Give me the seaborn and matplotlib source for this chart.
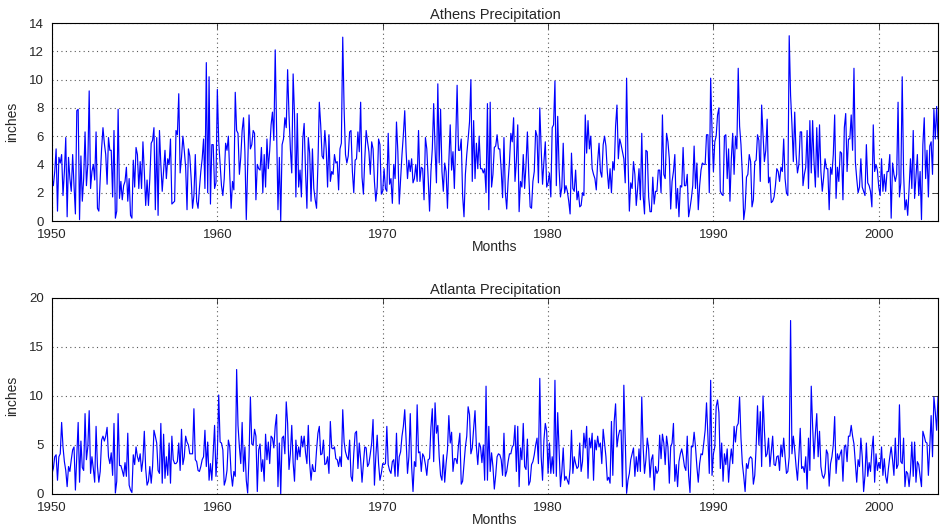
import seaborn as sns
import matplotlib
matplotlib.use("Agg")
import matplotlib.pyplot as plt
import numpy as np
import pandas as pd

# monthly precipitation (inches), Jan 1950 onwards
athens_in = [
    # 1950-1958
    3.0, 2.5, 3.5, 5.1, 0.7, 4.5, 4.1, 4.7, 1.8, 3.5, 5.9, 0.3,
    4.5, 3.0, 2.1, 4.7, 2.5, 0.5, 7.8, 7.9, 0.1, 4.6, 1.4, 3.0,
    6.3, 2.5, 4.0, 9.2, 2.3, 3.5, 4.0, 2.9, 6.3, 0.9, 0.7, 3.0,
    5.1, 6.6, 5.5, 4.7, 2.6, 5.9, 5.0, 5.0, 1.7, 6.4, 0.2, 0.7,
    7.9, 1.6, 2.8, 1.5, 2.5, 2.8, 3.8, 1.4, 3.0, 0.4, 0.2, 4.3,
    2.4, 5.2, 4.7, 2.3, 4.2, 2.3, 5.6, 3.5, 1.1, 2.9, 1.1, 3.0,
    5.5, 5.7, 6.6, 0.8, 5.9, 0.4, 6.4, 4.0, 2.1, 3.5, 5.0, 3.0,
    4.4, 4.0, 5.8, 1.2, 1.3, 1.4, 6.4, 6.1, 9.0, 3.4, 4.5, 6.0,
    5.0, 3.8, 0.8, 5.1, 4.6, 3.0, 0.9, 1.8, 4.7, 1.4, 0.9, 2.3,
    # 1959-1968
    3.5, 4.4, 5.8, 2.3, 11.2, 2.0, 10.2, 1.2, 5.4, 5.4, 2.3,
    2.7, 9.3, 5.6, 4.0, 2.5, 1.8, 3.0, 5.5, 5.0, 6.0, 3.3,
    0.9, 2.8, 2.2, 9.1, 6.4, 6.2, 3.3, 4.5, 6.4, 7.3, 4.9,
    0.1, 3.8, 7.5, 5.1, 5.4, 6.4, 6.2, 1.5, 4.0, 3.7,
    3.6, 5.2, 2.0, 4.7, 2.4, 5.8, 3.7, 5.0, 6.8, 7.7, 5.7,
    12.1, 6.4, 0.8, 4.5, 0.0, 5.4, 5.8, 7.3, 6.6, 10.7,
    7.5, 5.1, 3.4, 10.4, 7.5, 1.7, 7.6, 2.4, 3.6, 1.7,
    5.8, 6.9, 3.5, 0.9, 5.9, 4.8, 1.4, 5.1, 2.3, 1.5, 0.9, 4.0, 8.4,
    6.8, 4.6, 4.4, 6.4, 5.1, 2.4, 6.1, 2.8, 3.5, 3.3,
    4.7, 4.1, 4.2, 2.2, 5.1, 5.5, 13.0, 7.9, 4.7, 4.1,
    4.6, 6.3,
    # 1968-1977
    6.4, 3.5, 2.0, 4.3, 4.4, 6.3, 4.9, 8.4, 3.1, 1.9,
    4.4, 6.4, 5.6, 4.9, 3.3, 5.6, 5.1, 2.8, 1.4, 2.4,
    5.8, 5.4, 1.9, 2.1, 3.7, 2.3, 2.1, 6.2, 2.6, 3.0,
    1.25, 4.0, 3.0, 7.0, 4.9, 1.2, 2.9, 4.7, 6.1, 7.8,
    4.9, 3.0, 4.3, 3.5, 4.4, 2.7, 3.0, 4.0, 2.8, 6.4,
    2.8, 3.8, 3.7, 1.5, 5.9, 5.1, 3.0, 0.7, 3.5, 5.1,
    8.3, 5.1, 2.7, 9.7, 4.1, 7.9, 3.5, 2.1, 4.1, 3.5,
    0.9, 4.2, 6.8, 3.6, 4.9, 2.3, 5.7, 9.6, 5.0, 5.0,
    5.8, 1.8, 0.3, 3.3, 4.7, 5.8, 7.0, 10.0, 2.8, 7.1,
    3.0, 5.5, 3.7, 6.0, 3.7, 3.7, 3.4, 3.7, 2.0, 8.3,
    0.8, 8.4, 2.4, 3.3, 5.2, 5.3, 6.1, 5.1, 5.1,
    # 1977-1986
    3.6, 1.65, 5.9, 2.0, 0.85, 2.8, 4.2, 6.2, 5.6, 7.3,
    2.8, 4.2, 6.8, 0.66, 2.8, 2.4, 4.7, 2.3, 4.0, 6.3,
    3.3, 1.0, 0.9, 2.8, 3.5, 6.4, 6.0, 2.7, 8.0, 5.1,
    2.6, 4.2, 5.6, 2.4, 2.7, 3.4, 1.7, 6.6, 6.8, 9.9,
    2.5, 7.4, 3.7, 1.7, 2.4, 5.5, 2.0, 2.5, 2.1, 1.4,
    0.5, 4.8, 2.3, 2.1, 3.6, 1.5, 2.1, 1.0, 1.1, 2.0,
    1.8, 7.5, 4.8, 7.1, 5.1, 6.0, 3.7, 3.3, 3.0,
    2.2, 4.2, 5.5, 3.5, 3.1, 5.4, 6.0, 5.3, 3.5, 2.3,
    3.7, 2.0, 4.2, 3.6, 6.7, 8.2, 4.4, 5.8, 5.4,
    4.9, 4.4, 2.7, 10.1, 4.4, 0.7, 2.7, 2.3, 4.2,
    3.3, 1.1, 2.3, 3.7, 1.5, 6.2, 1.8, 0.5, 5.0, 4.9,
    1.7, 0.66,
    # 1986-1995
    0.66, 3.1, 1.2, 2.1, 2.1, 3.6, 3.6, 2.0, 7.5, 3.3,
    3.0, 6.2, 5.6, 4.4, 0.85, 2.8, 3.5, 4.7, 0.9, 2.3,
    0.3, 2.5, 2.4, 5.2, 2.5, 2.5, 3.3, 0.3, 0.9, 1.6,
    2.5, 5.3, 2.3, 4.1, 0.8, 2.5, 3.6, 4.1, 4.0, 4.0,
    6.1, 6.1, 2.0, 10.1, 6.4, 3.5, 5.6, 6.0, 7.5, 8.0,
    2.1, 1.9, 1.8, 6.0, 6.1, 3.0, 5.1, 1.4, 4.4, 6.2,
    3.3, 6.0, 5.1, 10.8, 6.7, 5.4, 3.3, 0.1, 0.9,
    3.1, 3.3, 4.7, 4.2, 1.0, 1.5, 4.2, 4.3, 6.1, 5.7,
    2.8, 8.2, 6.1, 4.2, 5.0, 7.2, 2.7, 3.1, 1.3, 1.4,
    1.7, 2.5, 3.7, 3.5, 2.8, 3.8, 3.5, 5.8, 3.0, 2.0,
    1.8, 13.1, 8.9, 6.8, 4.2, 7.7, 4.7, 3.4, 4.0, 6.3,
    # 1995-2003
    6.3, 2.5, 3.3, 3.8, 6.4, 2.3, 7.1, 3.4, 7.1, 4.2,
    2.4, 6.6, 3.1, 6.8, 3.5, 2.1, 3.1, 4.4, 3.7, 3.7,
    0.8, 3.8, 3.3, 4.7, 7.5, 1.6, 3.8, 2.8, 4.9, 4.8,
    1.5, 6.6, 7.6, 3.5, 5.8, 5.8, 7.5, 5.0, 10.8, 4.2,
    3.0, 2.0, 2.4, 4.4, 2.4, 2.1, 1.8, 5.4, 2.7, 2.5,
    2.1, 1.0, 6.8, 3.5, 4.0, 3.6, 2.4, 1.8, 4.4, 2.1,
    3.3, 2.1, 3.5, 3.5, 4.7, 0.2, 4.1, 3.3, 2.8, 3.3,
    8.4, 1.7, 2.7, 10.2, 3.4, 0.8, 1.5, 0.4, 2.3, 4.4,
    2.3, 6.4, 1.6, 3.1, 4.7, 1.8, 3.5, 0.1, 5.4, 7.3,
    3.0, 5.0, 1.7, 5.3, 5.6, 3.3, 7.9, 5.8, 8.1, 5.8,
]

atlanta_in = [
    # 1950-1958
    2.1, 2.6, 3.8, 4.0, 1.4, 3.8, 4.1, 7.3, 4.8, 3.3,
    2.4, 0.75, 2.8, 2.3, 3.5, 4.5, 4.8, 0.4, 3.8, 7.3,
    1.2, 5.4, 2.7, 2.4, 8.2, 3.5, 4.8, 8.5, 2.1, 3.8,
    2.6, 1.2, 6.9, 2.8, 1.2, 2.3, 5.5, 5.9, 5.4, 5.9,
    6.8, 3.8, 3.1, 4.2, 1.9, 7.2, 0.1, 1.3, 8.2,
    2.9, 2.9, 2.4, 1.8, 3.2, 1.8, 6.2, 0.9, 0.4, 0.15,
    4.0, 3.0, 4.8, 3.8, 3.3, 4.1, 2.3, 3.5, 6.4, 2.6,
    0.9, 1.3, 2.8, 1.1, 2.8, 6.5, 5.9, 5.2, 2.4, 2.1,
    7.2, 1.1, 6.1, 1.6, 3.8, 1.9, 5.2, 1.1, 5.9, 3.5,
    3.1, 3.1, 3.3, 5.2, 2.4, 6.6, 3.0, 3.8, 5.9, 5.3,
    5.0, 4.1, 4.1, 4.1, 8.7, 3.5, 3.3, 2.4, 2.3,
    # 1959-1968
    2.8, 3.5, 3.8, 6.5, 2.8, 5.3, 1.4, 3.1, 1.4, 4.1,
    7.0, 1.8, 4.1, 10.1, 5.3, 5.2, 4.5, 0.9, 1.4, 2.4,
    5.5, 4.8, 2.1, 0.8, 2.3, 1.8, 12.7, 7.0, 4.8, 3.1,
    7.3, 2.3, 4.8, 1.4, 0.1, 3.8, 9.9, 5.1, 5.0, 6.6,
    5.9, 0.25, 4.5, 5.1, 2.3, 3.5, 1.3, 6.1, 3.5, 5.3,
    3.1, 5.9, 5.7, 4.7, 6.9, 8.1, 0.75, 5.2, 0.0, 5.7,
    5.9, 4.1, 9.4, 7.2, 2.5, 4.1, 7.0, 3.2, 1.3,
    5.5, 3.5, 4.8, 3.8, 5.9, 4.8, 5.9, 4.2, 3.1, 7.0,
    3.1, 1.4, 3.0, 2.3, 2.3, 4.5, 6.2, 6.9, 4.0, 4.1,
    5.5, 3.0, 3.1, 3.8, 2.1, 7.4, 4.7, 4.6, 4.8, 3.6,
    3.5, 2.8, 3.8, 2.8, 8.6, 5.3, 4.3, 3.8, 3.5, 5.5,
    # 1968-1977
    1.8, 1.3, 4.1, 6.2, 6.4, 2.6, 5.2, 3.5, 1.2, 3.1,
    4.8, 4.7, 2.8, 3.1, 4.1, 5.2, 7.6, 0.9, 3.8, 6.0,
    3.1, 1.4, 2.1, 3.1, 3.0, 3.1, 6.9, 3.0, 2.4, 2.1,
    3.3, 3.5, 1.8, 6.2, 1.8, 3.8, 4.3, 5.9, 6.9, 8.6,
    5.5, 2.1, 3.8, 8.2, 2.8, 0.25, 3.3, 2.8, 9.1,
    4.2, 4.3, 2.3, 4.1, 3.8, 3.0, 1.9, 3.5, 3.6,
    6.8, 8.7, 3.3, 9.3, 6.2, 7.0, 3.8, 1.9, 1.4, 4.0,
    1.2, 3.1, 4.5, 8.0, 5.2, 6.3, 2.3, 3.6, 3.6, 3.1,
    5.0, 6.2, 1.0, 1.3, 3.1, 4.8, 5.9, 8.9, 8.1, 4.1,
    4.7, 6.7, 8.5, 4.8, 3.0, 5.2, 4.8, 3.2, 5.0, 1.4,
    11.0, 1.4, 6.9, 2.3, 4.2, 2.8, 0.5, 1.9, 3.8, 4.1,
    4.0,
    # 1977-1986
    3.5, 1.9, 6.2, 1.8, 2.3, 3.3, 4.1, 4.1, 4.8, 5.0,
    7.0, 2.3, 6.9, 0.75, 4.7, 3.5, 7.2, 2.8, 2.5, 5.6,
    0.9, 1.3, 3.0, 3.3, 4.0, 5.0, 5.7, 3.1, 11.8, 3.8,
    1.4, 5.5, 7.2, 6.4, 2.1, 5.2, 2.1, 3.8, 2.1,
    11.6, 1.8, 8.3, 4.5, 0.75, 2.3, 4.7, 1.4, 1.8, 1.4,
    1.0, 2.6, 6.5, 2.1, 3.8, 3.1, 2.6, 2.8, 5.2,
    2.3, 3.3, 6.2, 4.7, 6.9, 1.6, 5.7, 4.7, 6.2,
    1.4, 5.5, 4.5, 5.9, 4.8, 5.2, 3.1, 6.6, 5.2, 3.8,
    1.4, 1.7, 1.1, 7.4, 1.9, 7.4, 9.2, 4.8, 5.9,
    6.5, 6.5, 0.75, 11.1, 5.7, 0.07, 1.4, 2.1, 3.5,
    4.1, 4.7, 1.8, 3.8, 2.3, 4.6, 2.3, 9.9, 4.8, 2.1,
    3.5, 5.7, 4.6, 1.7,
    # 1986-1995
    3.5, 4.0, 0.4, 2.8, 2.1, 2.4, 6.0, 3.6, 6.1, 5.2,
    3.0, 5.9, 4.8, 1.1, 4.8, 5.2, 7.2, 1.3, 3.0,
    0.75, 3.3, 4.1, 4.6, 3.8, 2.8, 2.4, 5.9, 1.9, 0.15,
    4.9, 4.8, 6.3, 4.8, 2.8, 1.2, 3.1, 4.1, 4.0,
    5.2, 6.5, 9.3, 5.9, 2.1, 11.6, 1.9, 4.1, 4.8, 8.9,
    9.6, 8.3, 2.6, 5.2, 1.3, 4.1, 3.0, 4.6, 1.2,
    3.3, 4.6, 3.1, 6.9, 5.3, 6.9, 7.2, 9.9, 5.7, 3.1,
    1.8, 0.25, 3.1, 2.6, 3.6, 3.8, 3.6, 1.0, 1.9, 4.8,
    9.0, 5.0, 8.4, 2.8, 10.0, 6.5, 3.8, 4.1, 5.7, 2.8,
    4.3, 5.9, 3.0, 2.9, 3.8, 3.9, 2.4, 5.0, 3.8,
    5.7, 3.8, 2.1, 2.3, 3.8, 17.7, 4.1, 5.9, 4.5, 2.8,
    1.4, 3.8, 6.7,
    # 1995-2003
    2.6, 2.8, 2.2, 3.8, 0.5, 5.7, 2.4, 11.0, 6.9, 3.6,
    6.2, 8.2, 3.8, 6.4, 2.8, 1.9, 1.6, 2.1, 4.5, 4.1,
    0.8, 3.1, 3.8, 5.0, 7.9, 2.1, 4.1, 3.5, 4.1, 4.5,
    1.3, 4.8, 5.0, 3.3, 5.9, 5.9, 7.0, 5.9, 5.1, 3.1,
    1.2, 3.5, 2.8, 5.7, 3.8, 0.25, 1.9, 5.2, 1.8,
    3.2, 2.3, 4.5, 5.9, 1.2, 4.1, 2.4, 3.2, 2.6,
    4.8, 1.9, 3.6, 1.8, 1.1, 2.6, 3.8, 4.8, 3.5,
    1.9, 5.7, 2.6, 3.0, 9.1, 3.3, 3.1, 5.7, 0.75,
    2.3, 2.1, 0.75, 2.3, 5.3, 1.8, 5.3, 1.2, 3.3,
    3.0, 1.8, 0.75, 6.4, 5.9, 5.3, 5.2, 1.9, 4.8,
    8.0, 3.8, 9.9, 8.4, 6.5, 9.9,
]

year_ticks = [1950, 1960, 1970, 1980, 1990, 2000]
athens_yticks = [0, 2, 4, 6, 8, 10, 12, 14]
atlanta_yticks = [0, 5, 10, 15, 20]

n = min(len(athens_in), len(atlanta_in))
months = 1950 + np.arange(n) / 12.0
df = pd.DataFrame({"month": months,
                   "Athens": athens_in[:n],
                   "Atlanta": atlanta_in[:n]})

sns.set_style("white")
plt.rcParams['font.family'] = ['Liberation Sans', 'DejaVu Sans']

fig = plt.figure(figsize=(9.4, 5.29), dpi=100)
ax1 = fig.add_axes([0.0553, 0.5822, 0.9426, 0.3743])
ax2 = fig.add_axes([0.0553, 0.0662, 0.9426, 0.3705])

panels = [(ax1, "Athens", "Athens Precipitation", athens_yticks),
          (ax2, "Atlanta", "Atlanta Precipitation", atlanta_yticks)]

for ax, col, title, yt in panels:
    sns.lineplot(data=df, x="month", y=col, ax=ax, color=(0, 0, 1),
                 linewidth=0.85, estimator=None)
    ax.set_xlim(1950, df["month"].iloc[-1])
    ax.set_ylim(yt[0], yt[-1])
    ax.set_xticks(year_ticks)
    ax.set_yticks(yt)
    ax.grid(True, linestyle=(0, (1, 3)), color='0.35', linewidth=0.8)
    ax.tick_params(direction='in', top=True, right=True, length=4,
                   width=0.6, labelsize=9.5)
    ax.tick_params(axis='y', pad=6)
    ax.tick_params(axis='x', pad=6)
    for s in ax.spines.values():
        s.set_color('black')
        s.set_linewidth(0.8)
    ax.set_title(title, fontsize=10.5, pad=3)
    ax.set_xlabel("Months", fontsize=10, labelpad=-1)
    ax.set_ylabel("inches", fontsize=10, labelpad=7)

fig.savefig("out.png", dpi=100)
